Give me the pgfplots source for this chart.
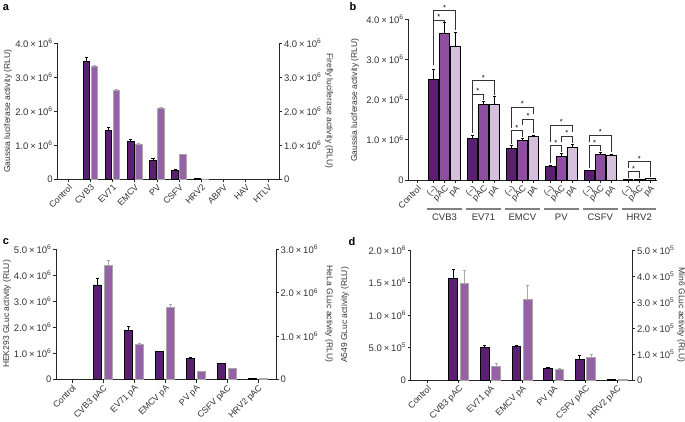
\documentclass[border=0pt]{standalone}
\usepackage{fontspec}
\setmainfont{Liberation Sans}
\usepackage{pgfplots}
\pgfplotsset{compat=1.18}

\definecolor{cdark}{HTML}{5B1F72}
\definecolor{cmid}{HTML}{8E4FA0}
\definecolor{clight}{HTML}{D5BFDD}
\definecolor{cfire}{HTML}{9563A5}
\definecolor{cedge}{HTML}{A8A8A8}

\newcommand{\sci}[2]{#1\hspace{0.2em}×\hspace{0.2em}10\textsuperscript{#2}}
\newcommand{\lab}{\fontsize{8.5}{9}\selectfont}
\newcommand{\tlab}{\fontsize{9.5}{10}\selectfont}
\newcommand{\xlab}{\fontsize{8.8}{10}\selectfont}

\pgfplotsset{
 base/.style={
  scale only axis, clip=false, ymin=0,
  axis line style={line width=0.9pt, black!85},
  every tick/.style={line width=0.8pt, black!85},
  major tick length=3pt, tick align=outside,
  tick label style={font=\tlab, text=black!80},
  yticklabel style={inner sep=1.5pt},
  xticklabel style={rotate=45, anchor=north east, inner sep=1pt, font=\xlab},
 },
 twinL/.style={axis x line*=bottom, axis y line*=left},
 twinR/.style={axis x line=none, axis y line*=right},
 darkbar/.style={ybar, bar shift=0, fill=cdark, draw=black, line width=0.9pt},
 firebar/.style={ybar, bar shift=0, fill=cfire, draw=cedge, line width=0.9pt},
 midbar/.style={ybar, bar shift=0, fill=cmid, draw=black, line width=0.9pt},
 lightbar/.style={ybar, bar shift=0, fill=clight, draw=black, line width=0.9pt},
 errk/.style={error bars/.cd, y dir=plus, y explicit,
   error bar style={line width=0.8pt, black},
   error mark options={rotate=90, mark size=1.6pt, line width=0.8pt, black}},
 errg/.style={error bars/.cd, y dir=plus, y explicit,
   error bar style={line width=0.8pt, cedge},
   error mark options={rotate=90, mark size=1.6pt, line width=0.8pt, cedge}},
}

% bracket: x1, x2, low1, low2, top, xmid
\newcommand{\brk}[6]{%
  \draw[line width=0.6pt, black!80] (axis cs:#1,#3) -- (axis cs:#1,#5) -- (axis cs:#2,#5) -- (axis cs:#2,#4);
  \node[font=\fontsize{7.5}{7.5}\selectfont, inner sep=0pt, anchor=south] at (axis cs:#6,#5) {*};}
% group bar: x1, x2, xmid, label
\newcommand{\grp}[4]{%
  \draw[line width=2pt, black!50] (axis cs:#1,-0.72) -- (axis cs:#2,-0.72);
  \node[font=\tlab, text=black!80] at (axis cs:#3,-0.93) {#4};}

\begin{document}
\begin{tikzpicture}
\useasboundingbox (0pt,0pt) rectangle (685pt,421pt);

% ================= panel a =================
\begin{axis}[base, twinL, at={(57.3pt,241.7pt)}, anchor=south west,
  width=222pt, height=136pt, xmin=-0.49, xmax=9.51, ymax=4,
  xtick={0,...,9}, xticklabels={Control,CVB3,EV71,EMCV,PV,CSFV,HRV2,ABPV,HAV,HTLV},
  ytick={0,1,2,3,4},
  yticklabels={0,\sci{1.0}{6},\sci{2.0}{6},\sci{3.0}{6},\sci{4.0}{6}}]
\addplot[darkbar, bar width=0.3, errk] coordinates {
 (0.82,3.46) +- (0,0.13) (1.82,1.44) +- (0,0.09) (2.82,1.10) +- (0,0.08)
 (3.82,0.54) +- (0,0.08) (4.82,0.26) +- (0,0.02) (5.82,0.015) +- (0,0)};
\end{axis}
\begin{axis}[base, twinR, at={(57.3pt,241.7pt)}, anchor=south west,
  width=222pt, height=136pt, xmin=-0.49, xmax=9.51, ymax=4,
  ytick={0,1,2,3,4},
  yticklabels={0,\sci{1.0}{6},\sci{2.0}{6},\sci{3.0}{6},\sci{4.0}{6}}]
\addplot[firebar, bar width=0.3, errg] coordinates {
 (1.18,3.31) +- (0,0.03) (2.18,2.61) +- (0,0.03) (3.18,1.03) +- (0,0.02)
 (4.18,2.09) +- (0,0.02) (5.18,0.72) +- (0,0.02) (6.18,0.01) +- (0,0)};
\end{axis}

% ================= panel b =================
\begin{axis}[base, twinL, at={(408.3pt,241pt)}, anchor=south west,
  width=248.4pt, height=161pt, xmin=-0.82, xmax=21.76, ymax=4,
  xtick={0,1.45,2.47,3.49,4.99,6.01,7.03,8.53,9.55,10.57,12.07,13.09,14.11,15.61,16.63,17.65,19.15,20.17,21.19},
  xticklabels={Control,(–),pAC,pA,(–),pAC,pA,(–),pAC,pA,(–),pAC,pA,(–),pAC,pA,(–),pAC,pA},
  ytick={0,1,2,3,4},
  yticklabels={0,\sci{1.0}{6},\sci{2.0}{6},\sci{3.0}{6},\sci{4.0}{6}}]
\addplot[darkbar, bar width=0.9, errk] coordinates {
 (1.45,2.50) +- (0,0.25) (4.99,1.02) +- (0,0.10) (8.53,0.79) +- (0,0.07)
 (12.07,0.33) +- (0,0.03) (15.61,0.23) +- (0,0.01) (19.15,0.02) +- (0,0)};
\addplot[midbar, bar width=0.9, errk] coordinates {
 (2.47,3.63) +- (0,0.28) (6.01,1.88) +- (0,0.08) (9.55,0.98) +- (0,0.05)
 (13.09,0.58) +- (0,0.07) (16.63,0.64) +- (0,0.04) (20.17,0.02) +- (0,0)};
\addplot[lightbar, bar width=0.9, errk] coordinates {
 (3.49,3.31) +- (0,0.35) (7.03,1.88) +- (0,0.19) (10.57,1.09) +- (0,0.03)
 (14.11,0.81) +- (0,0.08) (17.65,0.60) +- (0,0.03) (21.19,0.03) +- (0,0)};
% brackets
\brk{1.45}{2.47}{2.85}{3.93}{3.98}{1.96}
\brk{1.45}{3.49}{2.85}{3.72}{4.21}{2.47}
\brk{4.99}{6.01}{1.17}{2.00}{2.14}{5.50}
\brk{4.99}{7.03}{1.17}{2.12}{2.47}{6.01}
\brk{8.53}{9.55}{0.90}{1.07}{1.23}{9.04}
\brk{9.55}{10.57}{1.36}{1.16}{1.52}{10.06}
\brk{8.53}{10.57}{1.28}{1.65}{1.81}{9.55}
\brk{12.07}{13.09}{0.42}{0.70}{0.85}{12.58}
\brk{13.09}{14.11}{0.95}{0.93}{1.09}{13.60}
\brk{12.07}{14.11}{0.95}{1.20}{1.37}{13.09}
\brk{15.61}{16.63}{0.30}{0.72}{0.85}{16.12}
\brk{15.61}{17.65}{0.95}{0.70}{1.12}{16.63}
\brk{19.15}{20.17}{0.06}{0.06}{0.21}{19.66}
\brk{19.15}{21.19}{0.30}{0.08}{0.46}{20.17}
% group bars and labels
\grp{0.91}{4.04}{2.47}{CVB3}
\grp{4.45}{7.58}{6.01}{EV71}
\grp{7.99}{11.12}{9.55}{EMCV}
\grp{11.53}{14.66}{13.09}{PV}
\grp{15.07}{18.20}{16.63}{CSFV}
\grp{18.61}{21.74}{20.17}{HRV2}
\end{axis}

% ================= panel c =================
\begin{axis}[base, twinL, at={(56pt,41.5pt)}, anchor=south west,
  width=220pt, height=130.2pt, xmin=-0.52, xmax=6.58, ymax=5,
  xtick={0,...,6}, xticklabels={Control,CVB3 pAC,EV71 pA,EMCV pA,PV pA,CSFV pAC,HRV2 pAC},
  ytick={0,1,2,3,4,5},
  yticklabels={0,\sci{1.0}{6},\sci{2.0}{6},\sci{3.0}{6},\sci{4.0}{6},\sci{5.0}{6}}]
\addplot[darkbar, bar width=0.27, errk] coordinates {
 (0.82,3.63) +- (0,0.25) (1.82,1.87) +- (0,0.18) (2.82,1.06) +- (0,0.02)
 (3.82,0.81) +- (0,0.03) (4.82,0.61) +- (0,0.02) (5.82,0.03) +- (0,0)};
\end{axis}
\begin{axis}[base, twinR, at={(56pt,41.5pt)}, anchor=south west,
  width=220pt, height=130.2pt, xmin=-0.52, xmax=6.58, ymax=3,
  ytick={0,1,2,3},
  yticklabels={0,\sci{1.0}{6},\sci{2.0}{6},\sci{3.0}{6}}]
\addplot[firebar, bar width=0.27, errg] coordinates {
 (1.18,2.62) +- (0,0.12) (2.18,0.80) +- (0,0.04) (3.18,1.65) +- (0,0.08)
 (4.18,0.18) +- (0,0.01) (5.18,0.25) +- (0,0.01) (6.18,0.015) +- (0,0)};
\end{axis}

% ================= panel d =================
\begin{axis}[base, twinL, at={(410.7pt,41pt)}, anchor=south west,
  width=221.6pt, height=130pt, xmin=-0.52, xmax=6.48, ymax=2,
  xtick={0,...,6}, xticklabels={Control,CVB3 pAC,EV71 pA,EMCV pA,PV pA,CSFV pAC,HRV2 pAC},
  ytick={0,0.5,1,1.5,2},
  yticklabels={0,\sci{5.0}{5},\sci{1.0}{6},\sci{1.5}{6},\sci{2.0}{6}}]
\addplot[darkbar, bar width=0.27, errk] coordinates {
 (0.82,1.565) +- (0,0.13) (1.82,0.50) +- (0,0.03) (2.82,0.52) +- (0,0.01)
 (3.82,0.18) +- (0,0.015) (4.82,0.31) +- (0,0.075) (5.82,0.01) +- (0,0)};
\end{axis}
\begin{axis}[base, twinR, at={(410.7pt,41pt)}, anchor=south west,
  width=221.6pt, height=130pt, xmin=-0.52, xmax=6.48, ymax=5,
  ytick={0,1,2,3,4,5},
  yticklabels={0,\sci{1.0}{5},\sci{2.0}{5},\sci{3.0}{5},\sci{4.0}{5},\sci{5.0}{5}}]
\addplot[firebar, bar width=0.27, errg] coordinates {
 (1.18,3.72) +- (0,0.48) (2.18,0.52) +- (0,0.10) (3.18,3.08) +- (0,0.57)
 (4.18,0.41) +- (0,0.03) (5.18,0.87) +- (0,0.12) (6.18,0.02) +- (0,0)};
\end{axis}

% ================= titles and panel letters =================
\begin{scope}[every node/.style={font=\lab, text=black!80, inner sep=0pt}]
\node[rotate=90] at (8pt,310pt) {Gaussia luciferase activity (RLU)};
\node[rotate=-90] at (329pt,310pt) {Firefly luciferase activity (RLU)};
\node[rotate=90] at (355pt,321pt) {Gaussia luciferase activity (RLU)};
\node[rotate=90] at (7pt,107pt) {HEK293 GLuc activity (RLU)};
\node[rotate=-90] at (329pt,107pt) {HeLa GLuc activity (RLU)};
\node[rotate=90] at (345pt,106pt) {A549 GLuc activity (RLU)};
\node[rotate=-90] at (681pt,106pt) {Min6 GLuc activity (RLU)};
\end{scope}
\begin{scope}[every node/.style={font=\fontsize{11}{11}\selectfont\bfseries, inner sep=0pt}]
\node at (6pt,413pt) {a};
\node at (353pt,414pt) {b};
\node at (6pt,179pt) {c};
\node at (352pt,179pt) {d};
\end{scope}
\end{tikzpicture}
\end{document}
